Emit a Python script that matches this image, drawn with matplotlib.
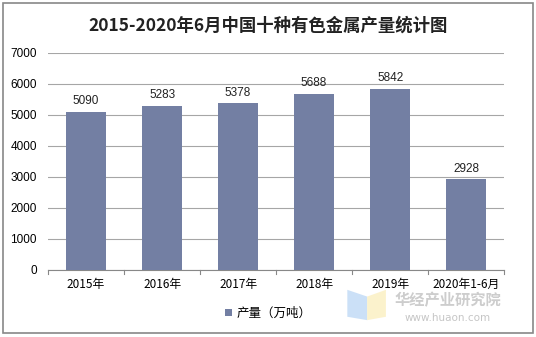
import matplotlib
matplotlib.use("Agg")
import matplotlib.pyplot as plt
from matplotlib.patches import Rectangle, Polygon

plt.rcParams['font.family'] = ['Noto Sans CJK SC', 'DejaVu Sans']

categories = ["2015年", "2016年", "2017年", "2018年", "2019年", "2020年1-6月"]
output = [5090, 5283, 5378, 5688, 5842, 2928]
yticks = [0, 1000, 2000, 3000, 4000, 5000, 6000, 7000]

fig = plt.figure(figsize=(5.36, 3.37), dpi=100)
fig.patches.append(Rectangle((0.006, 0.012), 0.988, 0.978, transform=fig.transFigure,
                             fill=False, edgecolor="#888888", linewidth=1.2))

ax = fig.add_axes([0.0896, 0.199, 0.851, 0.644])
x = list(range(len(categories)))
bars = ax.bar(x, output, width=0.52, color="#737FA3", label="产量（万吨）", zorder=3)
for xi, v in zip(x, output):
    ax.text(xi, v + 150, f"{v}", ha="center", va="bottom", fontsize=8.5,
            family=['Liberation Sans', 'DejaVu Sans'], color="#222222")

ax.set_xlim(-0.5, len(categories) - 0.5)
ax.set_ylim(0, 7000)
ax.set_yticks(yticks)
ax.set_yticklabels([str(t) for t in yticks], family=['Liberation Sans', 'DejaVu Sans'], fontsize=8.5)
ax.set_xticks(x)
ax.set_xticklabels(categories, fontsize=8.5)
ax.grid(axis="y", color="#A6A6A6", linewidth=0.8, zorder=0)
ax.tick_params(axis="y", length=0, pad=8)
ax.tick_params(axis="x", length=0, pad=6)
for s in ["top", "right", "left"]:
    ax.spines[s].set_visible(False)
ax.spines["bottom"].set_color("#888888")
for b in [i - 0.5 for i in range(len(categories) + 1)]:
    ax.plot([b, b], [0, -130], color="#888888", linewidth=0.8, clip_on=False)

fig.text(0.5, 0.925, "2015-2020年6月中国十种有色金属产量统计图", ha="center", va="center",
         fontsize=12.5, fontweight="bold", color="#222222")

fig.legend(handles=[bars], labels=["产量（万吨）"], loc="center", bbox_to_anchor=(0.5, 0.07),
           frameon=False, fontsize=9, handlelength=0.6, handleheight=0.6, handletextpad=0.3)

# watermark logo and text
fig.patches.append(Polygon([(0.648, 0.14), (0.685, 0.12), (0.685, 0.05), (0.648, 0.06)],
                           closed=True, transform=fig.transFigure, facecolor="#BFD9F5",
                           edgecolor="none", alpha=0.8))
fig.patches.append(Polygon([(0.685, 0.12), (0.72, 0.14), (0.72, 0.06), (0.685, 0.05)],
                           closed=True, transform=fig.transFigure, facecolor="#FBEFC0",
                           edgecolor="none", alpha=0.8))
fig.text(0.835, 0.108, "华经产业研究院", ha="center", va="center", fontsize=11,
         fontweight="bold", color="#B8B8B8", alpha=0.7)
fig.text(0.835, 0.055, "www.huaon.com", ha="center", va="center", fontsize=7.5,
         color="#B8B8B8", alpha=0.8, family=['DejaVu Sans'])

fig.savefig("out.png", dpi=100)
